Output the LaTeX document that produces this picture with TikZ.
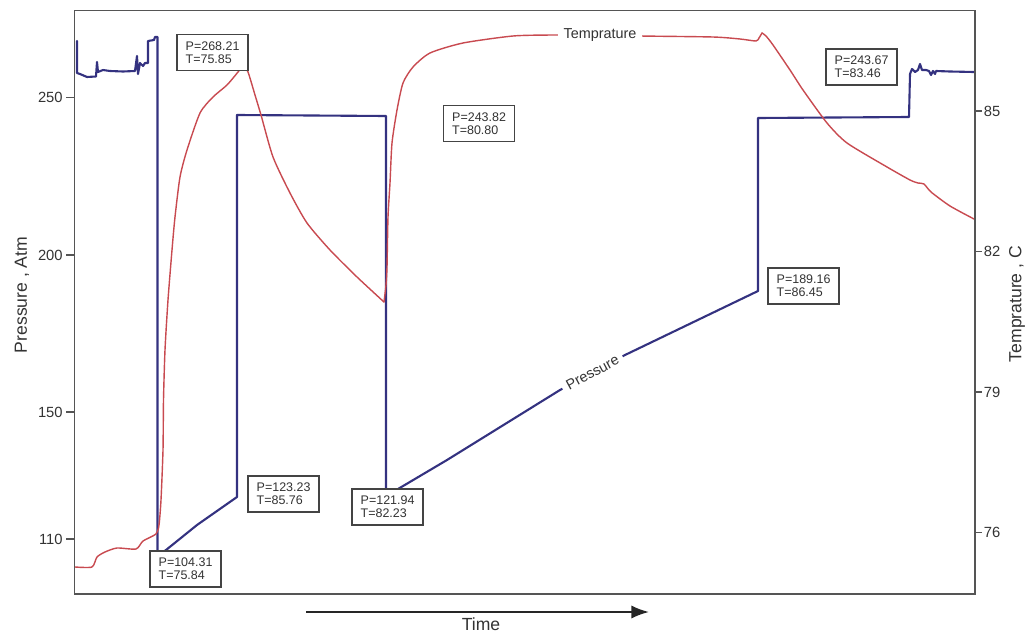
\documentclass[tikz,border=0pt]{standalone}
\usepackage{fontspec}
\setmainfont{Liberation Sans}
\usetikzlibrary{arrows.meta}
\definecolor{pblue}{RGB}{52,50,128}
\definecolor{tred}{RGB}{200,74,80}
\definecolor{txt}{RGB}{51,51,51}
\definecolor{framec}{RGB}{85,85,85}
\definecolor{boxc}{RGB}{68,68,68}
\begin{document}
\begin{tikzpicture}[x=0.02cm,y=-0.02cm,
  valbox/.style={draw=boxc, line width=0.8pt, fill=white, rectangle, inner xsep=4.9pt, inner ysep=0pt,
    minimum height=20.6pt, text width=30.5pt, align=left, font=\fontsize{7.1}{7.6}\selectfont, text=txt},
  ticklab/.style={font=\fontsize{8.4}{9}\selectfont, text=txt, inner sep=0pt},
  axlab/.style={font=\fontsize{10}{12}\selectfont, text=txt, inner sep=0pt},
  curvelab/.style={font=\fontsize{8.2}{10}\selectfont, text=txt, fill=white, inner xsep=3pt, inner ysep=1pt},
  pres/.style={draw=pblue, line width=1.2pt, line join=round, line cap=round},
  temp/.style={draw=tred, line width=0.8pt, line join=round, line cap=round},
  axisline/.style={draw=framec, line width=0.8pt},
  timearrow/.style={draw=black!85, line width=1.1pt, -{Latex[length=10pt,width=7.5pt]}}]
\useasboundingbox (0,0) rectangle (1027,635);

% ---------- pressure curve ----------
\draw[pres] (77,41) -- (77,73) -- (80,74) -- (87,77) -- (96,76.5) -- (97,62) -- (98,72) -- (103,70) -- (110,71)
  -- (123,71.5) -- (135,71) -- (137,56) -- (138,74) -- (140,63) -- (143,66) -- (145,63) -- (148,63)
  -- (148,41) -- (154,40) -- (155,37) -- (157.5,37) -- (157.5,556) -- (166,550) -- (197,525) -- (237,497)
  -- (237,115) -- (386,116) -- (386,492) -- (398,489) -- (447,460) -- (560,390) -- (625,355) -- (758,291)
  -- (758,118) -- (909,117) -- (910,74) -- (912,69) -- (915,72) -- (918,70) -- (920,64) -- (922,70)
  -- (926,70) -- (929,71) -- (931,75) -- (933,71) -- (935,74) -- (936,71) -- (950,71.5) -- (974,72);
\node[curvelab, rotate=28.3] (plabel) at (592.5,372.5) {Pressure};

% ---------- temperature curve ----------
\draw[temp] plot[smooth, tension=0.4] coordinates {(75,567) (92,567) (97,557) (105,552) (117,548) (136,549)
  (143,541) (156,534) (159,525) (161,500) (163,450) (163.5,400) (165,350) (168,300) (172,250) (175,217)
  (180,177) (187,150) (200,113) (213,97) (227,85) (238,72) (243,65)};
\draw[temp] plot[smooth, tension=0.4] coordinates {(243,65) (248,72) (255,95) (261,115) (273,157) (290,193) (307,223)
  (330,250) (357,277) (384,302)};
\draw[temp] plot[smooth, tension=0.4] coordinates {(384,302) (386,285) (387,267) (388,217) (390,183) (392,143)
  (397,110) (403,83) (413,67) (430,53) (463,43) (513,36) (553,35) (601,35) (640,36) (713,37) (740,39)
  (756,41) (759,38) (762,33)};
\draw[temp] plot[smooth, tension=0.4] coordinates {(762,33) (766,36) (773,45) (790,70) (803,90) (827,123)
  (847,143) (887,167) (910,180) (918,183) (924,184) (931,192) (950,206) (974,219)};
\node[curvelab] (tlabel) at (600,35.5) {Temprature};

% ---------- value boxes ----------
\node[valbox] (b1) at (212.5,52.5) {P=268.21\\T=75.85};
\node[valbox] (b2) at (479,123.5) {P=243.82\\T=80.80};
\node[valbox] (b3) at (861.5,67) {P=243.67\\T=83.46};
\node[valbox] (b4) at (803.5,286) {P=189.16\\T=86.45};
\node[valbox] (b5) at (283.5,494) {P=123.23\\T=85.76};
\node[valbox] (b6) at (387.5,507) {P=121.94\\T=82.23};
\node[valbox] (b7) at (185.5,569) {P=104.31\\T=75.84};

% ---------- frame and ticks ----------
\draw[axisline] (74.5,10.5) rectangle (975,594);
\foreach \v/\yy in {250/97.5, 200/255, 150/412, 110/539}{
  \draw[axisline] (66,\yy) -- (74.5,\yy);
  \node[ticklab, anchor=east] (pl\v) at (63,\yy) {\v};
}
\foreach \v/\yy in {85/111, 82/251.5, 79/392, 76/532.5}{
  \draw[axisline] (975,\yy) -- (982,\yy);
  \node[ticklab, anchor=west] (tl\v) at (983.5,\yy) {\v};
}
\node[axlab, rotate=90] (ylab) at (22,295) {Pressure , Atm};
\node[axlab, rotate=90] (y2lab) at (1017,304) {Temprature , C};

% ---------- time arrow ----------
\coordinate (tstart) at (306,612);
\coordinate (tend) at (649,612);
\draw[timearrow] (tstart) -- (tend);
\node[axlab, anchor=base] (timelab) at (481,630.5) {Time};
\end{tikzpicture}
\end{document}
